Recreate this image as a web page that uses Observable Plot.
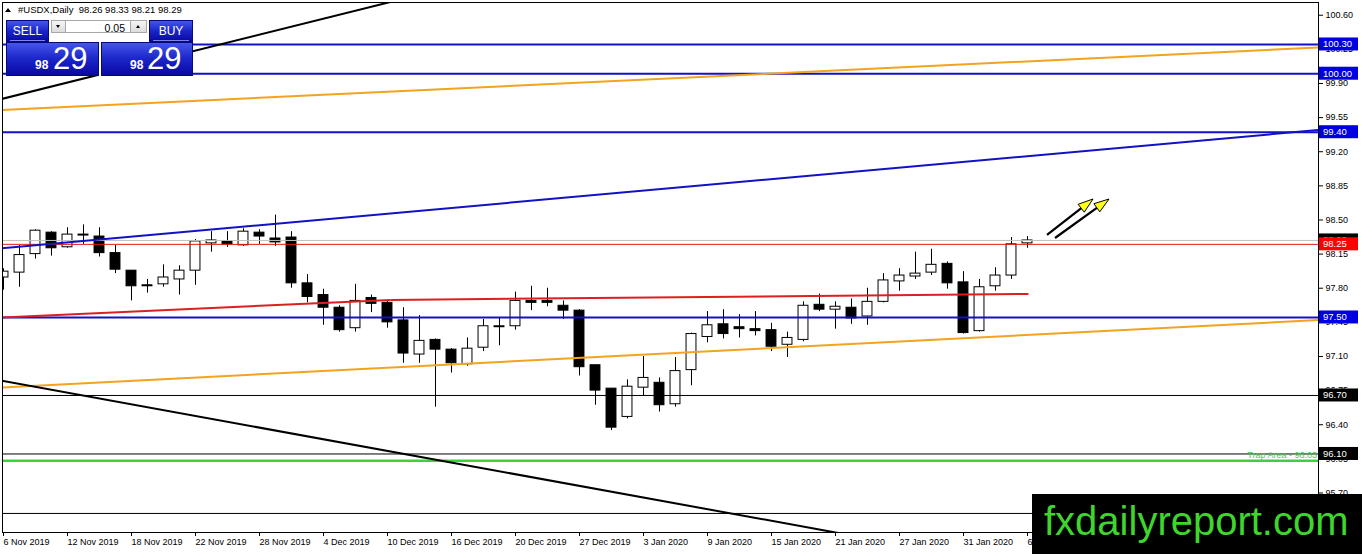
<!DOCTYPE html>
<html>
<head>
<meta charset="utf-8">
<script src="https://cdn.jsdelivr.net/npm/d3@7"></script>
<script src="https://cdn.jsdelivr.net/npm/@observablehq/plot@0.6"></script>
<style>
  html, body { margin:0; padding:0; background:#fff; }
  #wrap { position:relative; width:1362px; height:554px; overflow:hidden; font-family:"Liberation Sans", Arial, sans-serif; }
  #chart svg { display:block; }
  .abs { position:absolute; line-height:1; white-space:nowrap; }
  .blue { position:absolute; box-sizing:border-box; background:linear-gradient(#4655ec, #1b25c8 50%, #0909a2); border:1px solid #08087a; }
  .spin { position:absolute; box-sizing:border-box; background:linear-gradient(#f6f6f6,#dcdcdc); border:1px solid #a8a8a8; }
  .field { position:absolute; box-sizing:border-box; background:#fff; border-top:1px solid #a8a8a8; border-bottom:1px solid #a8a8a8; }
  .w { color:#fff; }
</style>
</head>
<body>
<div id="wrap">
  <div id="chart"></div>

  <!-- symbol header -->
  <div class="abs" style="left:5px;top:8px;width:0;height:0;border-left:3px solid transparent;border-right:3px solid transparent;border-bottom:4px solid #000;"></div>
  <div class="abs" style="left:18px;top:5px;font-size:9.5px;color:#000;">#USDX,Daily&nbsp; 98.26 98.33 98.21 98.29</div>

  <!-- one-click trading panel -->
  <div class="abs" style="left:6px;top:20px;width:187px;height:56px;background:#fff;"></div>
  <div class="blue" style="left:6px;top:20px;width:43px;height:22px;"></div>
  <div class="blue" style="left:149px;top:20px;width:44px;height:22px;"></div>
  <div class="blue" style="left:6px;top:42px;width:93px;height:34px;"></div>
  <div class="blue" style="left:101px;top:42px;width:92px;height:34px;"></div>
  <div class="abs" style="left:10px;top:40px;width:35px;height:1px;background:#7d86e8;"></div>
  <div class="abs" style="left:153px;top:40px;width:36px;height:1px;background:#7d86e8;"></div>
  <div class="abs w" style="left:6px;width:43px;text-align:center;top:25px;font-size:12px;">SELL</div>
  <div class="abs w" style="left:149px;width:44px;text-align:center;top:25px;font-size:12px;">BUY</div>
  <div class="spin" style="left:51px;top:20px;width:15px;height:13px;"></div>
  <div class="field" style="left:66px;top:20px;width:64px;height:13px;"></div>
  <div class="spin" style="left:130px;top:20px;width:17px;height:13px;"></div>
  <div class="abs" style="left:56px;top:25px;width:0;height:0;border-left:2.5px solid transparent;border-right:2.5px solid transparent;border-top:3px solid #000;"></div>
  <div class="abs" style="left:136px;top:25px;width:0;height:0;border-left:2.5px solid transparent;border-right:2.5px solid transparent;border-bottom:3px solid #000;"></div>
  <div class="abs" style="left:66px;width:59px;text-align:right;top:23px;font-size:10.5px;color:#000;">0.05</div>
  <div class="abs w" style="left:35px;top:59px;font-size:12px;font-weight:bold;">98</div>
  <div class="abs w" style="left:53px;top:43px;font-size:31px;">29</div>
  <div class="abs w" style="left:130px;top:59px;font-size:12px;font-weight:bold;">98</div>
  <div class="abs w" style="left:147px;top:43px;font-size:31px;">29</div>

  <!-- watermark -->
  <svg class="abs" style="left:1032px;top:494px;" width="330" height="60">
    <rect width="330" height="60" fill="#000"></rect>
    <text x="12" y="41" font-size="40" fill="#3ed62c" font-family="Liberation Sans, Arial, sans-serif">fxdailyreport.com</text>
  </svg>
</div>

<script>
// ---------- data ----------
// daily bars, index 0 = 6 Nov 2019 ... 64 = 6 Feb 2020
const opens  = [97.91,97.96,98.15,98.37,98.22,98.34,98.33,98.16,97.98,97.83,97.84,97.89,97.98,98.26,98.28,98.24,98.37,98.31,98.32,97.85,97.73,97.60,97.39,97.70,97.65,97.47,97.12,97.27,97.17,97.02,97.19,97.40,97.41,97.67,97.67,97.62,97.57,97.01,96.77,96.48,96.78,96.83,96.61,96.96,97.30,97.43,97.40,97.38,97.37,97.22,97.27,97.63,97.58,97.60,97.51,97.66,97.87,97.92,97.96,98.05,97.86,97.36,97.82,97.93,98.26];
const highs  = [98.00,98.24,98.40,98.38,98.42,98.45,98.42,98.24,97.98,97.89,98.04,98.03,98.30,98.38,98.38,98.41,98.40,98.55,98.38,97.94,97.79,97.62,97.84,97.73,97.67,97.60,97.52,97.28,97.18,97.29,97.48,97.50,97.76,97.82,97.80,97.67,97.58,97.01,96.77,96.86,97.10,96.88,97.09,97.34,97.56,97.58,97.53,97.56,97.44,97.35,97.66,97.74,97.66,97.69,97.80,97.95,98.00,98.17,98.20,98.07,97.97,97.89,98.01,98.32,98.33];
const lows   = [97.78,97.81,98.10,98.13,98.21,98.25,98.12,97.95,97.67,97.75,97.81,97.73,97.83,98.17,98.22,98.23,98.25,98.23,97.80,97.65,97.42,97.35,97.35,97.55,97.39,97.03,97.03,96.58,96.93,97.00,97.15,97.21,97.37,97.57,97.61,97.48,96.90,96.60,96.34,96.46,96.70,96.53,96.58,96.80,97.24,97.28,97.29,97.31,97.15,97.09,97.25,97.56,97.38,97.43,97.42,97.65,97.77,97.89,97.93,97.79,97.33,97.35,97.77,97.89,98.21];
const closes = [97.97,98.14,98.39,98.21,98.35,98.35,98.16,97.99,97.82,97.82,97.91,97.98,98.28,98.29,98.25,98.38,98.33,98.27,97.85,97.71,97.60,97.37,97.67,97.64,97.45,97.13,97.26,97.17,97.03,97.18,97.41,97.41,97.67,97.65,97.65,97.57,96.99,96.75,96.37,96.79,96.88,96.60,96.95,97.33,97.42,97.33,97.38,97.36,97.20,97.29,97.62,97.58,97.61,97.49,97.66,97.88,97.93,97.95,98.04,97.85,97.34,97.81,97.93,98.25,98.29];

// x-axis tick labels and the bar they sit on
const xTickBars   = [0,4,8,12,16,20,24,28,32,36,40,44,48,52,56,60,64];
const xTickLabels = ["6 Nov 2019","12 Nov 2019","18 Nov 2019","22 Nov 2019","28 Nov 2019","4 Dec 2019","10 Dec 2019","16 Dec 2019","20 Dec 2019","27 Dec 2019","3 Jan 2020","9 Jan 2020","15 Jan 2020","21 Jan 2020","27 Jan 2020","31 Jan 2020","6 Feb 2020"];

// price-axis ticks
const yTicks = [100.60,100.25,99.90,99.55,99.20,98.85,98.50,98.15,97.80,97.45,97.10,96.75,96.40,96.05,95.70];

// horizontal levels
const levelValues = [100.30,100.00,99.40,98.29,98.25,97.50,96.70,96.10,96.03,95.49];
const levelKinds  = ["blue","blue","blue","bid","red","blue","black","black","green","black"];

// trend lines: start/end bar index and price
const trendNames    = ["blackUpper","orangeUpper","blueUpper","orangeLower","blackLower","redLeft","redRight"];
const trendFromBar  = [-1, -1, -1, -1, -1, -1, 24.19];
const trendFromVal  = [99.705, 99.620, 98.196, 96.774, 96.878, 97.493, 97.680];
const trendToBar    = [26, 83, 83, 83, 54, 24.19, 64.06];
const trendToVal    = [100.810, 100.275, 99.435, 97.481, 95.235, 97.680, 97.741];

// right-side price tags
const tagValues = [98.29,100.30,100.00,99.40,98.25,97.50,96.70,96.10];
const tagText   = ["98.29","100.30","100.00","99.40","98.25","97.50","96.70","96.10"];
const tagKinds  = ["black","blue","blue","blue","red","blue","black","black"];

// yellow arrows (bar index / price of tail and tip)
const arrowFromBar = [65.25, 65.75];
const arrowFromVal = [98.341, 98.310];
const arrowToBar   = [68.125, 69.125];
const arrowToVal   = [98.710, 98.710];

const trapLabel = "Trap Area - 96.03";
const trapValue = 96.03;

// ---------- styles ----------
const C = {blue:"#1212c4", tagBlue:"#0000e0", orange:"#f3a320", red:"#dc1f1f", green:"#3fcf3f", black:"#000", bid:"#c0c0c0"};
const levelStyle = {
  blue:  {stroke:C.blue, w:2},
  bid:   {stroke:C.bid, w:1},
  red:   {stroke:"#e01818", w:1},
  black: {stroke:"#000", w:1},
  green: {stroke:C.green, w:2.5}
};
const trendStyle = {
  blackUpper:{stroke:"#000", w:2},
  orangeUpper:{stroke:C.orange, w:2},
  blueUpper:{stroke:C.blue, w:2},
  orangeLower:{stroke:C.orange, w:2},
  blackLower:{stroke:"#000", w:2},
  redLeft:{stroke:C.red, w:2},
  redRight:{stroke:C.red, w:2}
};
const tagFill = {black:"#000", blue:C.tagBlue, red:"#ff0000"};

// ---------- build ----------
const bars = opens.map((o, i) => ({i, o, h: highs[i], l: lows[i], c: closes[i]}));
const levels = levelValues.map((v, k) => ({v, kind: levelKinds[k]}));
const trends = trendNames.map((n, k) => ({n, x1: trendFromBar[k], y1: trendFromVal[k], x2: trendToBar[k], y2: trendToVal[k]}));

function arrowsMark(index, scales) {
  const g = d3.create("svg:g");
  arrowFromBar.forEach((b, k) => {
    const x1 = scales.x(b), y1 = scales.y(arrowFromVal[k]);
    const x2 = scales.x(arrowToBar[k]), y2 = scales.y(arrowToVal[k]);
    const dx = x2 - x1, dy = y2 - y1, len = Math.hypot(dx, dy);
    const ux = dx / len, uy = dy / len;
    const head = 15, half = 5;
    const bx = x2 - ux * head, by = y2 - uy * head;
    g.append("line").attr("x1", x1).attr("y1", y1).attr("x2", bx + ux * 3).attr("y2", by + uy * 3)
      .attr("stroke", "#000").attr("stroke-width", 2.2);
    g.append("polygon")
      .attr("points", `${x2},${y2} ${bx - uy * half},${by + ux * half} ${bx + uy * half},${by - ux * half}`)
      .attr("fill", "#ffff1a").attr("stroke", "#000").attr("stroke-width", 1);
  });
  return g.node();
}

function tagsMark(index, scales, values, dims) {
  const g = d3.create("svg:g").attr("text-anchor", "start");
  const x0 = dims.width - dims.marginRight + 1;
  // trap label (object description)
  g.append("text").attr("x", dims.width - dims.marginRight - 1).attr("y", scales.y(trapValue) - 2.5)
    .attr("text-anchor", "end").attr("fill", C.green).attr("font-size", 9).text(trapLabel);
  tagValues.forEach((v, k) => {
    const y = scales.y(v);
    g.append("rect").attr("x", x0).attr("y", y - 6.5).attr("width", 39).attr("height", 13)
      .attr("fill", tagFill[tagKinds[k]]);
    g.append("text").attr("x", x0 + 4).attr("y", y + 3.5).attr("fill", "#fff")
      .attr("text-anchor", "start").attr("font-size", 9.5).text(tagText[k]);
  });
  return g.node();
}

const chart = Plot.plot({
  width: 1362,
  height: 554,
  marginLeft: 2,
  marginRight: 44,
  marginTop: 2,
  marginBottom: 22,
  x: {type: "linear", domain: [-0.0625, 82.1875], axis: null},
  y: {type: "linear", domain: [95.2946, 100.7305], axis: null},
  style: {fontFamily: "Liberation Sans, Arial, sans-serif", fontSize: "9px", background: "#fff", color: "#000", overflow: "visible"},
  marks: [
    // wicks
    Plot.ruleX(bars, {x: "i", y1: "l", y2: "h", stroke: "#000", strokeWidth: 1, clip: true}),
    // bodies
    Plot.rect(bars, {filter: d => d.c >= d.o, x1: d => d.i - 0.31, x2: d => d.i + 0.31, y1: "o", y2: "c", fill: "#fff", stroke: "#000", strokeWidth: 1, clip: true}),
    Plot.rect(bars, {filter: d => d.c < d.o, x1: d => d.i - 0.31, x2: d => d.i + 0.31, y1: "o", y2: "c", fill: "#000", stroke: "#000", strokeWidth: 1, clip: true}),
    // horizontal levels
    ...levels.map(l => Plot.ruleY([l.v], {stroke: levelStyle[l.kind].stroke, strokeWidth: levelStyle[l.kind].w})),
    // trend lines
    ...trends.map(t => Plot.link([t], {x1: "x1", y1: "y1", x2: "x2", y2: "y2", stroke: trendStyle[t.n].stroke, strokeWidth: trendStyle[t.n].w, clip: true})),
    arrowsMark,
    Plot.frame({stroke: "#000", strokeWidth: 1}),
    Plot.axisY({anchor: "right", ticks: yTicks, tickFormat: d => d.toFixed(2), tickSize: 4, tickPadding: 3, label: null}),
    Plot.axisX({anchor: "bottom", ticks: xTickBars, tickFormat: d => xTickLabels[xTickBars.indexOf(d)], tickSize: 4, tickPadding: 2, textAnchor: "start", dx: 0, label: null}),
    tagsMark
  ]
});
document.getElementById("chart").appendChild(chart);
</script>
</body>
</html>
